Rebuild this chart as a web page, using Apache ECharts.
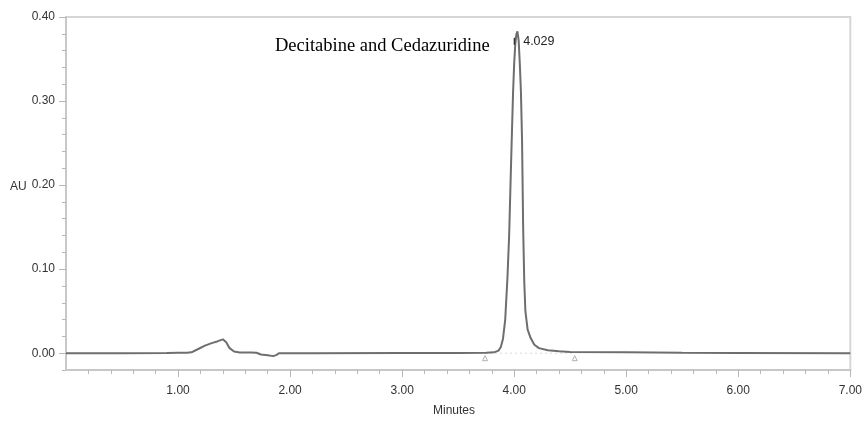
<!DOCTYPE html>
<html>
<head>
<meta charset="utf-8">
<script src="https://cdn.jsdelivr.net/npm/echarts@6/dist/echarts.min.js"></script>
<style>
html,body{margin:0;padding:0;background:#fff;}
#chart{width:865px;height:424px;}
</style>
</head>
<body>
<div id="chart"></div>
<script>
// Chromatogram trace: retention time (min) and absorbance (AU)
const timeMin = [0.00, 0.50, 0.90, 1.00, 1.08, 1.12, 1.18, 1.24, 1.30, 1.35, 1.40, 1.43, 1.46, 1.50, 1.55, 1.65, 1.70, 1.74, 1.80, 1.85, 1.88, 1.90, 2.20, 3.00, 3.50, 3.75, 3.82, 3.86, 3.88, 3.90, 3.92, 3.94, 3.955, 3.965, 3.978, 3.99, 4.00, 4.01, 4.02, 4.029, 4.04, 4.05, 4.06, 4.07, 4.08, 4.09, 4.10, 4.12, 4.147, 4.18, 4.221, 4.30, 4.40, 4.50, 5.00, 5.50, 6.00, 7.00];
const absorbance = [0.000, 0.000, 0.0003, 0.0005, 0.0004, 0.001, 0.005, 0.009, 0.012, 0.014, 0.0165, 0.013, 0.006, 0.002, 0.0008, 0.0008, 0.0005, -0.0015, -0.0025, -0.0035, -0.002, 0.000, 0.000, 0.0002, 0.0003, 0.0005, 0.001, 0.003, 0.007, 0.017, 0.040, 0.090, 0.140, 0.190, 0.254, 0.310, 0.345, 0.368, 0.380, 0.383, 0.372, 0.345, 0.312, 0.255, 0.150, 0.085, 0.050, 0.028, 0.018, 0.010, 0.006, 0.0035, 0.0022, 0.0015, 0.001, 0.0005, 0.0003, 0.000];

// Peak annotation
const peakTime = 4.029;
const peakHeight = 0.383;
const peakLabel = "4.029";
const compoundName = "Decitabine and Cedazuridine";

// Integration baseline markers
const baselineTimes = [3.74, 4.54];
const baselineValues = [0, 0];

// Axis ticks
const xMajorTicks = [1, 2, 3, 4, 5, 6, 7];
const xMinorTicks = [0.2, 0.4, 0.6, 0.8, 1.2, 1.4, 1.6, 1.8, 2.2, 2.4, 2.6, 2.8, 3.2, 3.4, 3.6, 3.8, 4.2, 4.4, 4.6, 4.8, 5.2, 5.4, 5.6, 5.8, 6.2, 6.4, 6.6, 6.8];
const yMajorTicks = [0, 0.1, 0.2, 0.3, 0.4];
const yMinorTicks = [-0.02, 0.02, 0.04, 0.06, 0.08, 0.12, 0.14, 0.16, 0.18, 0.22, 0.24, 0.26, 0.28, 0.32, 0.34, 0.36, 0.38];
const xMin = 0, xMax = 7, yMin = -0.02, yMax = 0.40;
const xTitle = "Minutes";
const yTitle = "AU";

const trace = timeMin.map((t, i) => [t, absorbance[i]]);
const baseline = baselineTimes.map((t, i) => [t, baselineValues[i]]);

const labelFont = {fontFamily: 'Liberation Sans, Arial, sans-serif', fontSize: 12, color: '#333'};
const axisGray = '#c8c8c8';

const chart = echarts.init(document.getElementById('chart'), null, {renderer: 'canvas'});
chart.setOption({
  animation: false,
  backgroundColor: '#fff',
  grid: {left: 66, right: 13, top: 17, bottom: 54, show: true, borderColor: '#d6d6d6', borderWidth: 2, backgroundColor: 'transparent'},
  xAxis: [{
    type: 'value', min: xMin, max: xMax,
    axisLine: {show: true, onZero: false, lineStyle: {color: axisGray, width: 2}},
    axisTick: {show: true, customValues: xMajorTicks, length: 7, lineStyle: {color: '#b8b8b8', width: 1}},
    axisLabel: Object.assign({customValues: xMajorTicks, margin: 15, formatter: v => v.toFixed(2)}, labelFont),
    splitLine: {show: false}
  }, {
    type: 'value', min: xMin, max: xMax, position: 'bottom',
    axisLine: {show: false, onZero: false},
    axisTick: {show: true, customValues: xMinorTicks, length: 4, lineStyle: {color: '#b8b8b8', width: 1}},
    axisLabel: {show: false},
    splitLine: {show: false}
  }],
  yAxis: [{
    type: 'value', min: yMin, max: yMax,
    axisLine: {show: true, onZero: false, lineStyle: {color: axisGray, width: 2}},
    axisTick: {show: true, customValues: yMajorTicks, length: 7, lineStyle: {color: '#b8b8b8', width: 1}},
    axisLabel: Object.assign({customValues: yMajorTicks, margin: 11, formatter: v => v.toFixed(2)}, labelFont),
    splitLine: {show: false}
  }, {
    type: 'value', min: yMin, max: yMax, position: 'left',
    axisLine: {show: false, onZero: false},
    axisTick: {show: true, customValues: yMinorTicks, length: 4, lineStyle: {color: '#b8b8b8', width: 1}},
    axisLabel: {show: false},
    splitLine: {show: false}
  }],
  series: [{
    type: 'line',
    data: baseline,
    xAxisIndex: 0, yAxisIndex: 0,
    showSymbol: true,
    symbol: 'triangle', symbolSize: 5, symbolOffset: [0, 5],
    itemStyle: {color: '#fff', borderColor: '#b0b0b0', borderWidth: 1},
    lineStyle: {color: '#d8d8d8', width: 1, type: [2, 3]},
    z: 1, silent: true
  }, {
    type: 'line',
    data: trace,
    xAxisIndex: 0, yAxisIndex: 0,
    showSymbol: false,
    lineStyle: {color: '#6e6e6e', width: 2},
    z: 3,
    markPoint: {
      symbol: 'rect', symbolSize: [1.5, 7], symbolOffset: [-3, 10],
      itemStyle: {color: '#333'},
      label: {show: true, position: 'right', distance: 8, formatter: peakLabel,
        fontFamily: 'Liberation Sans, Arial, sans-serif', fontSize: 12.5, color: '#222'},
      data: [{coord: [peakTime, peakHeight]}]
    }
  }],
  graphic: [{
    type: 'text', left: 275, top: 37,
    style: {text: compoundName, font: '18.5px "Liberation Serif", "Times New Roman", serif', fill: '#000'}
  }, {
    type: 'text', left: 10, top: 181,
    style: {text: yTitle, font: '12px "Liberation Sans", Arial, sans-serif', fill: '#333'}
  }, {
    type: 'text', left: 433, top: 405,
    style: {text: xTitle, font: '12px "Liberation Sans", Arial, sans-serif', fill: '#333'}
  }]
});
</script>
</body>
</html>
